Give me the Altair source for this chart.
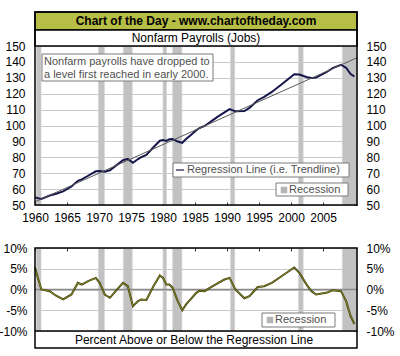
import altair as alt
import pandas as pd

# ---- data ----
years = [1960.0, 1960.5, 1961.0, 1962.3, 1963.3, 1964.4, 1965.7, 1966.7, 1967.3, 1968.3,
         1969.5, 1970.1, 1970.9, 1971.7, 1972.7, 1973.75, 1974.5, 1975.3, 1976.1, 1976.6,
         1977.4, 1978.5, 1979.5, 1980.0, 1980.5, 1981.0, 1981.5, 1982.3, 1983.0, 1983.6,
         1984.4, 1985.2, 1985.7, 1986.5, 1987.3, 1988.5, 1989.6, 1990.4, 1991.3, 1992.7,
         1993.5, 1994.8, 1995.8, 1997.0, 1998.5, 2000.5, 2001.3, 2002.5, 2003.2, 2003.9,
         2005.5, 2006.5, 2007.8, 2008.6, 2009.3, 2009.9]
payrolls = [54.8, 54.2, 53.8, 56.0, 57.1, 58.6, 61.6, 65.2, 66.1, 68.4,
            71.2, 71.4, 70.9, 71.8, 74.9, 78.2, 79.0, 76.6, 78.9, 80.1,
            81.5, 86.3, 90.4, 90.8, 90.3, 91.3, 91.5, 89.9, 89.1, 91.5,
            94.2, 97.0, 98.4, 99.7, 102.0, 105.4, 108.3, 110.3, 108.9, 109.1,
            111.1, 115.9, 118.0, 121.1, 125.8, 132.2, 132.1, 130.4, 129.9, 130.1,
            133.5, 136.1, 138.2, 136.3, 132.4, 130.8]
deviation = [5.3, 2.5, 0.0, -0.4, -1.5, -2.4, -1.2, 1.6, 1.2, 2.0,
             2.8, 1.6, -1.2, -2.0, -0.2, 1.6, 0.8, -4.0, -2.8, -2.4,
             -2.5, 0.8, 3.4, 2.8, 1.2, 1.2, 0.4, -2.8, -5.0, -3.6,
             -2.2, -0.8, -0.3, -0.4, 0.4, 1.5, 2.4, 2.8, 0.0, -2.1,
             -1.6, 0.6, 0.8, 1.6, 3.2, 5.3, 4.0, 1.0, -0.4, -1.2,
             -0.8, -0.2, -0.4, -2.8, -6.4, -8.3]
trend_years = [1960.0, 2010.3]
trend_values = [52.0, 142.6]
rec_start = [1960.2, 1969.9, 1973.8, 1980.0, 1981.5, 1990.55, 2001.15, 2008.0]
rec_end = [1960.95, 1970.85, 1975.2, 1980.55, 1982.95, 1991.2, 2001.9, 2010.3]
x_ticks = [1960, 1965, 1970, 1975, 1980, 1985, 1990, 1995, 2000, 2005]
y_ticks = [50, 60, 70, 80, 90, 100, 110, 120, 130, 140, 150]
dev_ticks = [-10, -5, 0, 5, 10]

title_text = "Chart of the Day - www.chartoftheday.com"
subtitle_text = "Nonfarm Payrolls (Jobs)"
note_lines = ["Nonfarm payrolls have dropped to", "a level first reached in early 2000."]
caption_text = "Percent Above or Below the Regression Line"
trend_label = "Regression Line (i.e. Trendline)"
rec_label = "Recession"

# ---- layout ----
W, H = 322, 285
TOP_H = 159
BOT_T, BOT_B = 202, 285
FONT = "Liberation Sans"
X_DOMAIN = [1960, 2010.3]

df = pd.DataFrame({"year": years, "payroll": payrolls, "dev": deviation})
tr = pd.DataFrame({"year": trend_years, "value": trend_values})
rec = pd.DataFrame({"start": rec_start, "end": rec_end})
dummy = pd.DataFrame({"d": [0]})
zero = pd.DataFrame({"v": [0]})


def xs():
    return alt.Scale(domain=X_DOMAIN, nice=False, zero=False)


def yt():
    return alt.Scale(domain=[50, 150], range=[TOP_H, 0], nice=False, zero=False)


def yb():
    return alt.Scale(domain=[-10, 10], range=[BOT_B, BOT_T], nice=False, zero=False)


lab = dict(labelFont=FONT, labelFontSize=12, labelColor="black", title=None, domain=False)

bars_top = alt.Chart(rec).mark_rect(color="#c2c2c2", stroke="#d6d6d6", strokeWidth=0.6).encode(
    x=alt.X("start:Q", scale=xs(), axis=None), x2="end:Q",
    y=alt.value(0), y2=alt.value(TOP_H))
bars_bot = alt.Chart(rec).mark_rect(color="#c2c2c2", stroke="#d6d6d6", strokeWidth=0.6).encode(
    x=alt.X("start:Q", scale=xs(), axis=None), x2="end:Q",
    y=alt.value(BOT_T), y2=alt.value(BOT_B))

payroll_line = alt.Chart(df).mark_line(color="#16164c", strokeWidth=2).encode(
    x=alt.X("year:Q", scale=xs(), axis=alt.Axis(orient="bottom", offset=-(H - TOP_H), values=x_ticks,
                                               format="d", ticks=False, labelPadding=7,
                                               labelFlush=False, grid=False, **lab)),
    y=alt.Y("payroll:Q", scale=yt(), axis=alt.Axis(orient="left", values=y_ticks, ticks=False,
                                                  labelPadding=10, grid=True, gridColor="#c9c9c9",
                                                  gridWidth=1, **lab)))

trend_line = alt.Chart(tr).mark_line(color="#5a5a5a", strokeWidth=1).encode(
    x=alt.X("year:Q", scale=xs(), axis=alt.Axis(orient="top", offset=-TOP_H, values=x_ticks,
                                               labels=False, ticks=True, tickSize=3,
                                               tickColor="#333", domain=False, title=None, grid=False)),
    y=alt.Y("value:Q", scale=yt(), axis=alt.Axis(orient="right", values=y_ticks, ticks=False,
                                                labelPadding=9, grid=False, **lab)))

top_inner_ticks = alt.Chart(df).mark_point(opacity=0).encode(
    x=alt.X("year:Q", scale=xs(), axis=None),
    y=alt.Y("payroll:Q", scale=yt(), axis=alt.Axis(orient="left", offset=-W, values=y_ticks,
                                                  labels=False, ticks=True, tickSize=3,
                                                  tickColor="#333", domain=False, title=None, grid=False)))

zero_rule = alt.Chart(zero).mark_rule(color="#8a8a8a", strokeWidth=1.5).encode(
    y=alt.Y("v:Q", scale=yb(), axis=None))

dev_dark = alt.Chart(df).mark_line(color="#38380a", strokeWidth=2.0).encode(
    x=alt.X("year:Q", scale=xs(), axis=alt.Axis(orient="bottom", offset=-(H - BOT_T), values=x_ticks,
                                               labels=False, ticks=True, tickSize=3,
                                               tickColor="#333", domain=False, title=None, grid=False)),
    y=alt.Y("dev:Q", scale=yb(), axis=alt.Axis(orient="left", values=dev_ticks, ticks=False,
                                              labelPadding=8, grid=True, gridColor="#c9c9c9",
                                              labelExpr="datum.value + '%'", **lab)))

dev_light = alt.Chart(df).mark_line(color="#9a9a2c", strokeWidth=0.8).encode(
    x=alt.X("year:Q", scale=xs(), axis=None),
    y=alt.Y("dev:Q", scale=yb(), axis=alt.Axis(orient="right", values=dev_ticks, ticks=False,
                                              labelPadding=9, grid=False,
                                              labelExpr="datum.value + '%'", **lab)))

bot_inner_ticks = alt.Chart(df).mark_point(opacity=0).encode(
    x=alt.X("year:Q", scale=xs(), axis=None),
    y=alt.Y("dev:Q", scale=yb(), axis=alt.Axis(orient="left", offset=-W, values=dev_ticks,
                                              labels=False, ticks=True, tickSize=3,
                                              tickColor="#333", domain=False, title=None, grid=False)))


def box(x1, x2, y1, y2, fill=None, stroke="black", sw=1.5):
    kw = dict(stroke=stroke, strokeWidth=sw)
    if fill is None:
        m = alt.Chart(dummy).mark_rect(filled=False, **kw)
    else:
        m = alt.Chart(dummy).mark_rect(fill=fill, **kw)
    return m.encode(x=alt.value(x1), x2=alt.value(x2), y=alt.value(y1), y2=alt.value(y2))


def text(s, x, y, size=12, align="left", color="black", weight="normal"):
    return alt.Chart(dummy).mark_text(text=s, align=align, baseline="middle", font=FONT,
                                      fontSize=size, color=color, fontWeight=weight).encode(
        x=alt.value(x), y=alt.value(y))


frames = [
    box(0, W, -34, -16, fill="#b6be46"),
    box(0, W, -16, 0, fill="white"),
    box(0, W, -34, TOP_H),
    box(0, W, BOT_T, BOT_B + 17),
    alt.Chart(dummy).mark_rule(color="black", strokeWidth=1.5).encode(
        x=alt.value(0), x2=alt.value(W), y=alt.value(BOT_B)),
    text(title_text, W / 2, -25, size=12, align="center", weight="bold"),
    text(subtitle_text, W / 2, -8, size=12, align="center"),
    # note box
    box(7, 178, 8, 35, fill="white", stroke="#7a7a7a", sw=1),
    text(note_lines[0], 9, 15.5, size=11, color="#505050"),
    text(note_lines[1], 9, 29, size=11, color="#505050"),
    # trend legend
    box(138, 314, 117, 131, fill="white", stroke="#7a7a7a", sw=1),
    alt.Chart(dummy).mark_rule(color="#16164c", strokeWidth=1.2).encode(
        x=alt.value(141), x2=alt.value(149), y=alt.value(124)),
    text(trend_label, 152, 124, size=11, color="#505050"),
    # recession legend top
    box(241, 313, 137, 150, fill="white", stroke="#7a7a7a", sw=1),
    box(246, 252, 141, 147, fill="#b5b5b5", stroke="#b5b5b5", sw=0.5),
    text(rec_label, 254, 143.5, size=11, color="#505050"),
    # recession legend bottom
    box(227, 300, 267, 281, fill="white", stroke="#7a7a7a", sw=1),
    box(232, 238, 271, 277, fill="#b5b5b5", stroke="#b5b5b5", sw=0.5),
    text(rec_label, 240, 274, size=11, color="#505050"),
    text(caption_text, W / 2 - 2, 294, size=12, align="center"),
]

chart = alt.layer(
    bars_top, bars_bot, payroll_line, trend_line, top_inner_ticks,
    zero_rule, dev_dark, dev_light, bot_inner_ticks, *frames
).resolve_scale(x="independent", y="independent").resolve_axis(
    x="independent", y="independent"
).properties(
    width=W, height=H,
    padding={"left": 35, "top": 46, "right": 43, "bottom": 25},
    autosize=alt.AutoSizeParams(type="none"),
    background="white",
).configure_view(stroke=None)

chart.save("out.html", embed_options={"renderer": "svg", "actions": False})
